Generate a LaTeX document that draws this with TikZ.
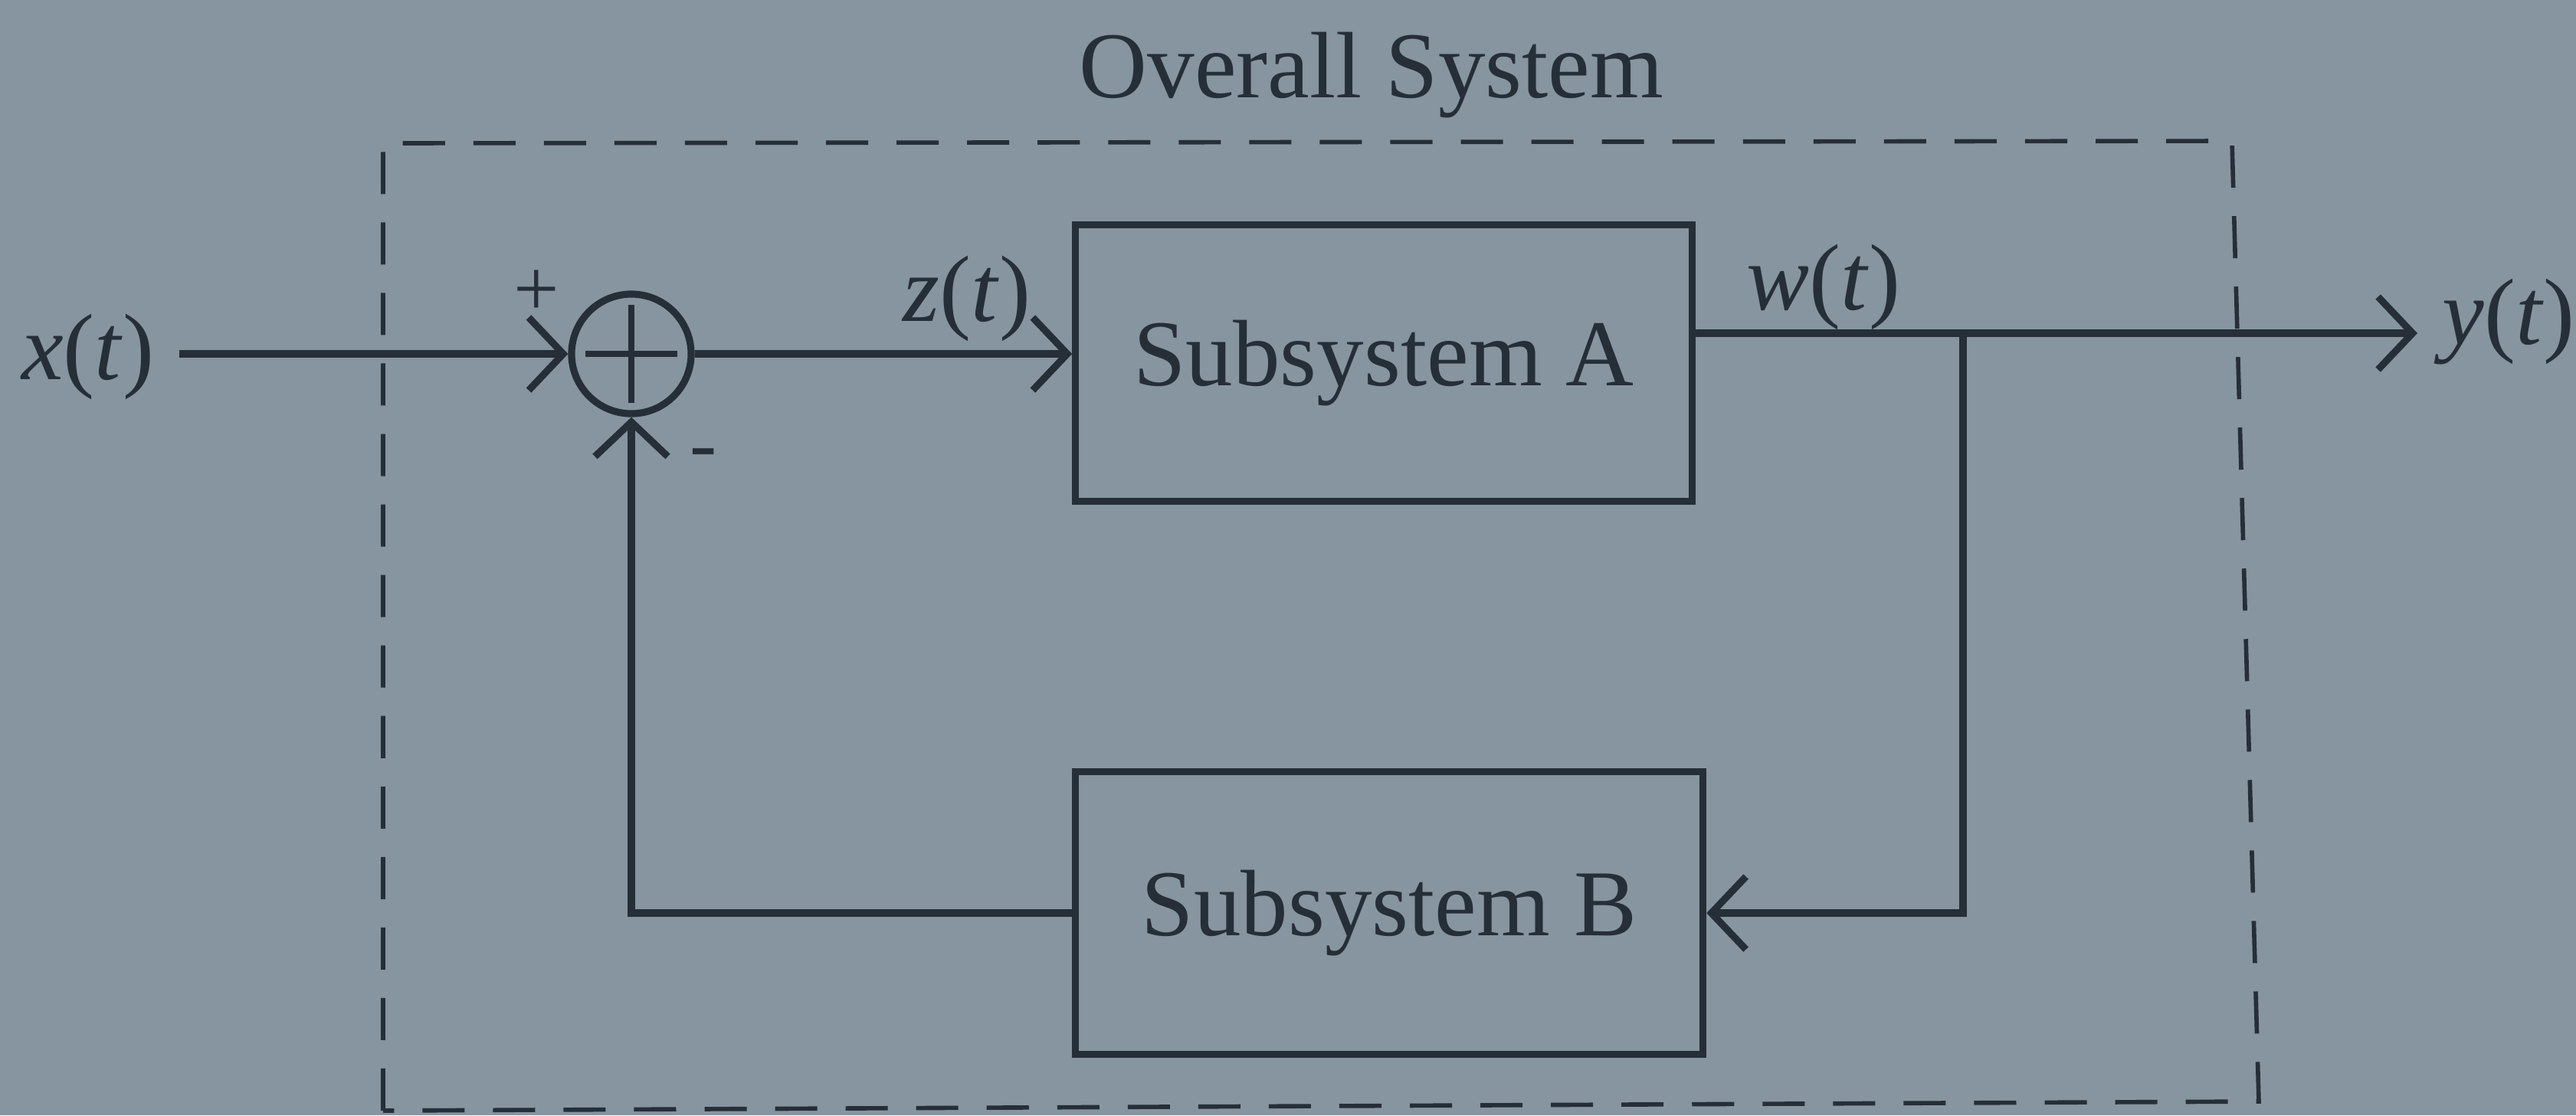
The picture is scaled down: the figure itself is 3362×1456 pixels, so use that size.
\documentclass[tikz,border=0pt]{standalone}
\usepackage{fontspec}
\setmainfont{Liberation Serif}
\usetikzlibrary{arrows.meta,calc}
\definecolor{bgc}{RGB}{134,149,159}
\definecolor{ink}{RGB}{38,46,56}
\tikzset{
  sig/.style={draw=ink, line width=2.6pt},
  arr/.style={sig, -{Straight Barb[length=0.45cm,width=0.95cm,line width=2.6pt]}},
  blk/.style={draw=ink, line width=2.6pt, rectangle, text=ink, font=\fontsize{35}{42}\selectfont},
  lbl/.style={text=ink, font=\fontsize{35}{42}\selectfont, inner sep=9pt},
  sgn/.style={text=ink, font=\fontsize{30}{36}\selectfont, inner sep=0pt},
  frame/.style={draw=ink, line width=1.6pt, dash pattern=on 0.55cm off 0.37cm}
}
\begin{document}
\begin{tikzpicture}[x=0.01cm,y=-0.01cm]
\useasboundingbox (0,0) rectangle (3362,1456);
\fill[bgc] (0,0) rectangle (3362,1456);
% overall dashed frame
\draw[frame] (500,1450) -- (500,187) -- (2913,184) -- (2948,1438) -- cycle;
\node[lbl] (title) at (1790,98) {Overall System};
% blocks
\node[blk, minimum width=8.04cm, minimum height=3.6cm] (A) at (1806,474) {Subsystem A};
\node[blk, minimum width=8.19cm, minimum height=3.68cm] (B) at (1813,1192) {Subsystem B};
\node[circle, draw=ink, line width=2.6pt, minimum size=1.56cm, inner sep=0pt] (sum) at (824,462) {};
\draw[ink, line width=2.2pt] ($(sum.center)+(0,-64)$) -- ($(sum.center)+(0,64)$);
\draw[ink, line width=2.2pt] ($(sum.center)+(-60,0)$) -- ($(sum.center)+(60,0)$);
% labels
\node[lbl] (xl) at (115,466) {\textit{x}(\textit{t})};
\node[lbl] (zl) at (1262,390) {\textit{z}(\textit{t})};
\node[lbl] (wl) at (2380,375) {\textit{w}(\textit{t})};
\node[lbl] (yl) at (3274,420) {\textit{y}(\textit{t})};
\node[sgn] (plus) at (700,383) {+};
\node[sgn] (minus) at (918,600) {-};
% connectors
\coordinate (br) at (2562,435);
\draw[arr] (sum.west -| xl.east) -- (sum.west);
\draw[arr] (sum.east) -- (sum.east -| A.west);
\draw[arr] (A.east |- br) -- (yl.west |- br);
\draw[arr] (br) -- (br |- B.east) -- (B.east);
\draw[arr] (B.west) -- (B.west -| sum.south) -- (sum.south);
\end{tikzpicture}
\end{document}
